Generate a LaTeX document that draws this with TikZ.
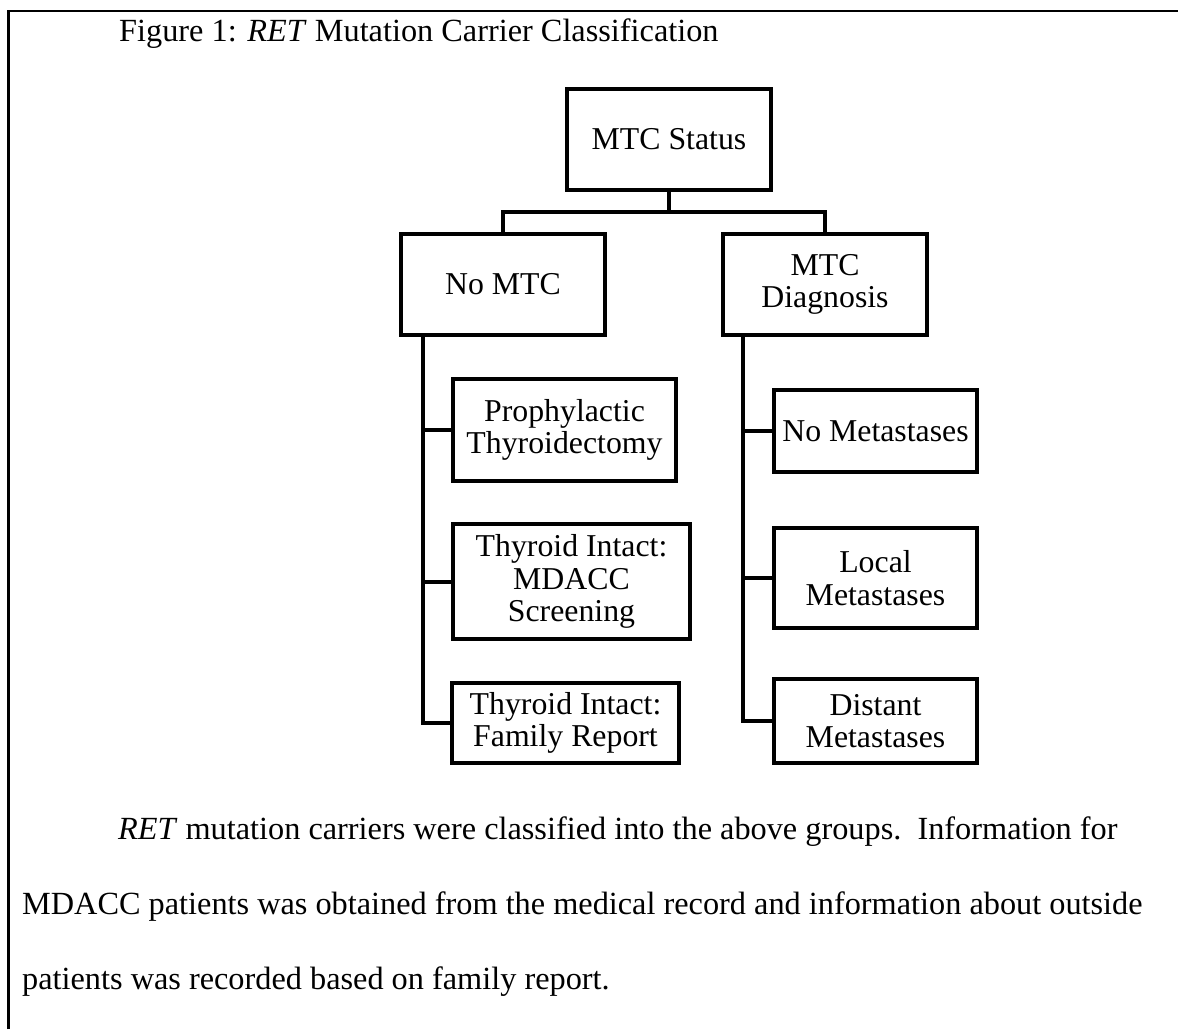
\documentclass[tikz,border=0pt]{standalone}
\usepackage{fontspec}
\setmainfont{Liberation Serif}
\usetikzlibrary{calc}

\tikzset{
  catbox/.style={draw, line width=4pt, inner sep=0pt, align=center,
    font=\fontsize{31.8}{32.5}\selectfont},
  conn/.style={draw, line width=4pt, line join=miter},
  frameline/.style={line width=2.5pt},
  bodytext/.style={anchor=base west, inner sep=0pt,
    font=\fontsize{32.3}{34}\selectfont},
}

\begin{document}
\begin{tikzpicture}[x=1pt, y=-1pt]
  \useasboundingbox (0,0) rectangle (1178,1029);

  % page frame (top and left rules)
  \draw[frameline] (8.7,1029) -- (8.7,11.2) -- (1178,11.2);

  % caption
  \node[bodytext] (caption) at (119,41)
    {Figure 1: \textit{RET} Mutation Carrier Classification};

  % classification boxes
  \node[catbox, minimum width=204pt, minimum height=101pt] (status)  at (669,139.5) {MTC Status};
  \node[catbox, minimum width=204pt, minimum height=101pt] (nomtc)   at (503,284.5) {No MTC};
  \node[catbox, minimum width=204pt, minimum height=101pt] (diag)    at (825,284.5) {MTC\\Diagnosis};

  \node[catbox, minimum width=223pt, minimum height=102pt] (proph)   at (564.5,430) {Prophylactic\\Thyroidectomy};
  \node[catbox, minimum width=237pt, minimum height=115pt] (mdacc)   at (571.5,581.5) {Thyroid Intact:\\MDACC\\Screening};
  \node[catbox, minimum width=227pt, minimum height=80pt]  (family)  at (565.5,723) {Thyroid Intact:\\Family Report};

  \node[catbox, minimum width=203pt, minimum height=82pt]  (nomet)   at (875.5,431) {No Metastases};
  \node[catbox, minimum width=203pt, minimum height=100pt] (local)   at (875.5,578) {Local\\Metastases};
  \node[catbox, minimum width=203pt, minimum height=84pt]  (distant) at (875.5,721) {Distant\\Metastases};

  % tree connectors
  \coordinate (split) at (669,212);
  \coordinate (spineL) at (423,0);
  \coordinate (spineR) at (743,0);

  \draw[conn] (status.south) -- (split);
  \draw[conn] (nomtc.north) |- (split) -| (diag.north);

  \draw[conn] (nomtc.south -| spineL) |- (family.west);
  \draw[conn] (proph.west) -- (proph.west -| spineL);
  \draw[conn] (mdacc.west) -- (mdacc.west -| spineL);

  \draw[conn] (diag.south -| spineR) |- (distant.west);
  \draw[conn] (nomet.west) -- (nomet.west -| spineR);
  \draw[conn] (local.west) -- (local.west -| spineR);

  % explanatory paragraph
  \node[bodytext] (para1) at (118,839) {\textit{RET} mutation carriers were classified into the above groups.\ \ Information for};
  \node[bodytext] (para2) at (22,914) {MDACC patients was obtained from the medical record and information about outside};
  \node[bodytext] (para3) at (22,989) {patients was recorded based on family report.};
\end{tikzpicture}
\end{document}
